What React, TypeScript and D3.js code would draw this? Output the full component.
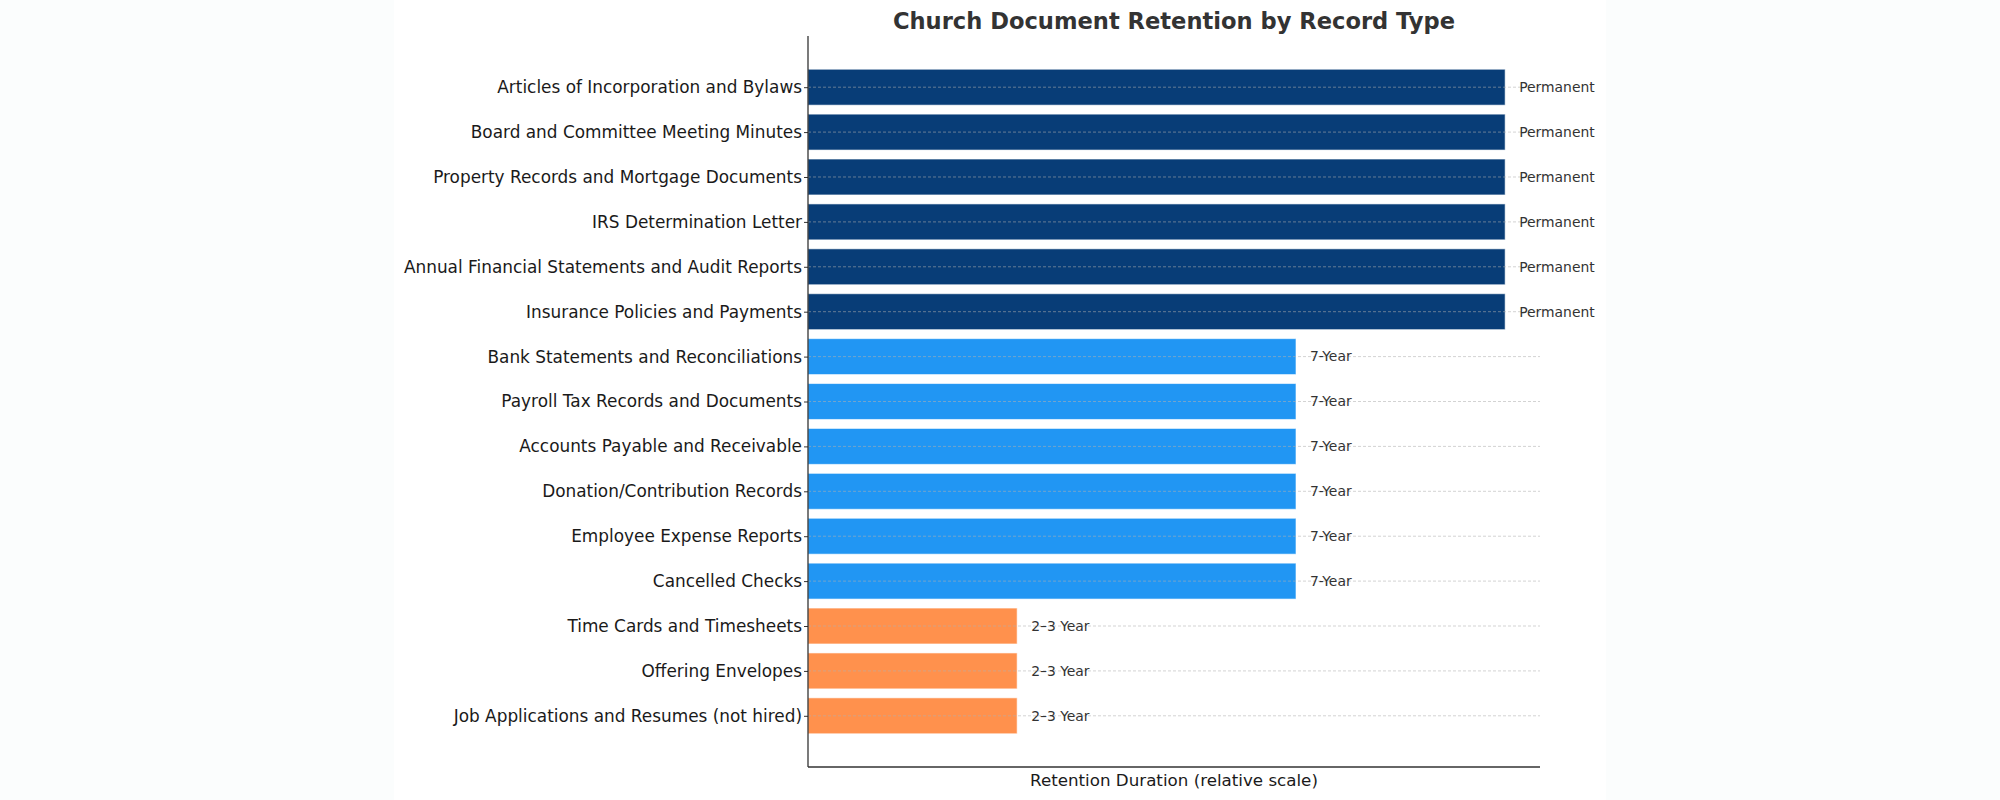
import * as d3 from 'd3';
import { useEffect, useRef } from 'react';

const records = [
    'Articles of Incorporation and Bylaws',
    'Board and Committee Meeting Minutes',
    'Property Records and Mortgage Documents',
    'IRS Determination Letter',
    'Annual Financial Statements and Audit Reports',
    'Insurance Policies and Payments',
    'Bank Statements and Reconciliations',
    'Payroll Tax Records and Documents',
    'Accounts Payable and Receivable',
    'Donation/Contribution Records',
    'Employee Expense Reports',
    'Cancelled Checks',
    'Time Cards and Timesheets',
    'Offering Envelopes',
    'Job Applications and Resumes (not hired)'
];

const retention = ['Permanent', 'Permanent', 'Permanent', 'Permanent', 'Permanent', 'Permanent',
    '7-Year', '7-Year', '7-Year', '7-Year', '7-Year', '7-Year',
    '2–3 Year', '2–3 Year', '2–3 Year'];

const tiers = ['Permanent', '7-Year', '2–3 Year'];
const tierValues = [10, 7, 3];
const tierColors = ['#083d77', '#2196f3', '#ff914d'];

const FONT = '"DejaVu Sans", sans-serif';

const App = () => {
    const ref = useRef<SVGSVGElement | null>(null);

    useEffect(() => {
        document.body.style.margin = '0';
        if (!ref.current) return;
        const svg = d3.select(ref.current);
        svg.selectAll('*').remove();

        const left = 808, right = 1540, top = 36, bottom = 767;
        const n = records.length;

        const x = d3.scaleLinear().domain([0, 10.5]).range([left, right]);
        const y = d3.scaleLinear().domain([-0.4 - 0.74, n - 1 + 0.4 + 0.74]).range([top, bottom]);

        const value = (r: string) => tierValues[tiers.indexOf(r)];
        const color = (r: string) => tierColors[tiers.indexOf(r)];

        svg.append('rect').attr('width', 2000).attr('height', 800).attr('fill', '#fbfdfd');
        svg.append('rect').attr('x', 394).attr('width', 1212).attr('height', 800).attr('fill', '#ffffff');

        const data = records.map((name, i) => ({ name, i, tier: retention[i] }));

        svg.append('g').selectAll('rect')
            .data(data)
            .enter().append('rect')
            .attr('x', x(0))
            .attr('y', d => y(d.i - 0.4))
            .attr('width', d => x(value(d.tier)) - x(0))
            .attr('height', y(0.8) - y(0))
            .attr('fill', d => color(d.tier))
            .attr('stroke', '#ffffff')
            .attr('stroke-opacity', 0.6)
            .attr('stroke-width', 1);

        // dashed grid over the bars
        svg.append('g').selectAll('line')
            .data(data)
            .enter().append('line')
            .attr('x1', left)
            .attr('x2', right)
            .attr('y1', d => y(d.i))
            .attr('y2', d => y(d.i))
            .attr('stroke', '#b0b0b0')
            .attr('stroke-opacity', 0.7)
            .attr('stroke-width', 0.8)
            .attr('stroke-dasharray', '3,2');

        const yAxis = d3.axisLeft(y)
            .tickValues(d3.range(n))
            .tickFormat(i => records[+i])
            .tickSize(4)
            .tickPadding(2);

        const gy = svg.append('g')
            .attr('transform', `translate(${left},0)`)
            .call(yAxis);
        gy.select('.domain').remove();
        gy.selectAll('line').attr('stroke', '#333');
        gy.selectAll('text')
            .attr('font-family', FONT)
            .attr('font-size', 16.9)
            .attr('fill', '#1a1a1a');

        svg.append('line')
            .attr('x1', left).attr('x2', left)
            .attr('y1', top).attr('y2', bottom)
            .attr('stroke', '#222').attr('stroke-width', 1.2);
        svg.append('line')
            .attr('x1', left).attr('x2', right)
            .attr('y1', bottom).attr('y2', bottom)
            .attr('stroke', '#333').attr('stroke-width', 1.6);

        svg.append('g').selectAll('text')
            .data(data)
            .enter().append('text')
            .attr('x', d => x(value(d.tier)) + 14)
            .attr('y', d => y(d.i))
            .attr('dy', '0.35em')
            .attr('font-family', FONT)
            .attr('font-size', 13.9)
            .attr('fill', '#333')
            .text(d => d.tier);

        svg.append('text')
            .attr('x', (left + right) / 2)
            .attr('y', 28.5)
            .attr('text-anchor', 'middle')
            .attr('font-family', FONT)
            .attr('font-size', 22.6)
            .attr('font-weight', 'bold')
            .attr('fill', '#333')
            .text('Church Document Retention by Record Type');

        svg.append('text')
            .attr('x', (left + right) / 2)
            .attr('y', 786)
            .attr('text-anchor', 'middle')
            .attr('font-family', FONT)
            .attr('font-size', 16.7)
            .attr('fill', '#1a1a1a')
            .text('Retention Duration (relative scale)');
    }, []);

    return <svg ref={ref} width={2000} height={800} style={{ display: 'block' }} />;
};

export default App;
